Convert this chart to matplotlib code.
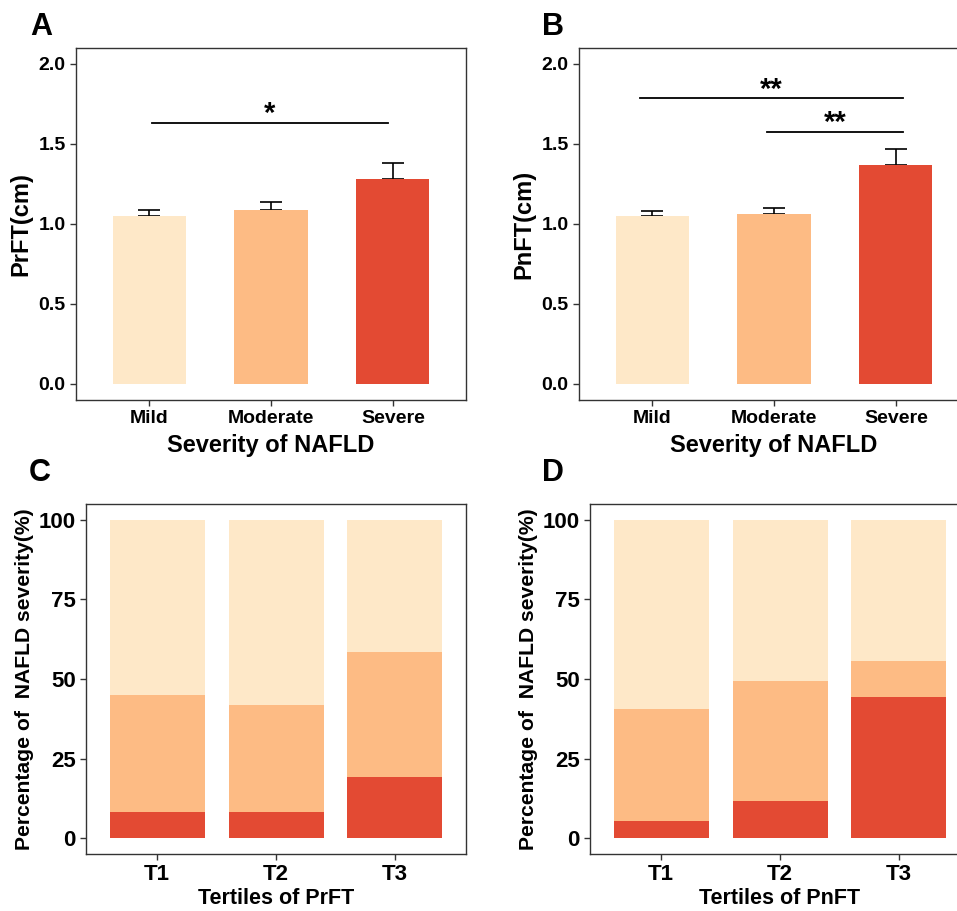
import matplotlib
matplotlib.use("Agg")
import matplotlib.pyplot as plt
import numpy as np

plt.rcParams['font.family'] = ['Liberation Sans', 'DejaVu Sans']

# ---- data ----
severity = ["Mild", "Moderate", "Severe"]
prft_mean = [1.05, 1.09, 1.28]
prft_se = [0.04, 0.05, 0.10]
pnft_mean = [1.05, 1.06, 1.37]
pnft_se = [0.03, 0.04, 0.10]

tertiles = ["T1", "T2", "T3"]
# stacked percentages (bottom -> top): severe, moderate, mild
c_severe = [8.1, 8.1, 19.3]
c_moderate = [36.9, 33.7, 39.2]
c_mild = [55.0, 58.2, 41.5]
d_severe = [5.5, 11.8, 44.3]
d_moderate = [35.1, 37.7, 11.3]
d_mild = [59.4, 50.5, 44.4]

colors = ["#fee8c8", "#fdbb84", "#e34a33"]

W, H = 957, 911
fig = plt.figure(figsize=(W / 100, H / 100), dpi=100)


def ax_px(left, top, right, bottom):
    return fig.add_axes([left / W, 1 - bottom / H, (right - left) / W, (bottom - top) / H])


def style(ax, tick_fs):
    for s in ax.spines.values():
        s.set_color("#333333")
        s.set_linewidth(1.0)
    ax.tick_params(axis="both", length=4, width=1.0, color="#333333",
                   labelsize=tick_fs, labelcolor="black")
    for lab in ax.get_xticklabels() + ax.get_yticklabels():
        lab.set_fontweight("bold")


def bar_panel(ax, means, se, ylabel, sigs):
    x = np.arange(1, 4)
    ax.bar(x, means, width=0.6, color=colors, zorder=2)
    ax.errorbar(x, means, yerr=[np.zeros(3), se], fmt="none", ecolor="black",
                elinewidth=1.2, capsize=8, capthick=1.2, zorder=1)
    ax.set_xlim(0.4, 3.6)
    ax.set_ylim(-0.1, 2.1)
    ax.set_yticks([0.0, 0.5, 1.0, 1.5, 2.0])
    ax.set_yticklabels(["0.0", "0.5", "1.0", "1.5", "2.0"])
    ax.set_xticks(x)
    ax.set_xticklabels(severity)
    ax.set_xlabel("Severity of NAFLD", fontsize=17, fontweight="bold", labelpad=5)
    ax.set_ylabel(ylabel, fontsize=17, fontweight="bold", labelpad=4)
    for (x0, x1, y, ytxt, label) in sigs:
        ax.plot([x0, x1], [y, y], color="black", lw=1.3)
        ax.text((x0 + x1) / 2, ytxt, label, ha="center", va="center",
                fontsize=21, fontweight="bold")
    style(ax, 14)


def stack_panel(ax, sev, mod, mild, xlabel):
    x = np.arange(1, 4)
    sev = np.array(sev)
    mod = np.array(mod)
    mild = np.array(mild)
    ax.bar(x, sev, width=0.8, color=colors[2])
    ax.bar(x, mod, width=0.8, bottom=sev, color=colors[1])
    ax.bar(x, mild, width=0.8, bottom=sev + mod, color=colors[0])
    ax.set_xlim(0.4, 3.6)
    ax.set_ylim(-5, 105)
    ax.set_yticks([0, 25, 50, 75, 100])
    ax.set_xticks(x)
    ax.set_xticklabels(tertiles)
    ax.set_xlabel(xlabel, fontsize=15.5, fontweight="bold", labelpad=2)
    ax.set_ylabel("Percentage of  NAFLD severity(%)", fontsize=15.2,
                  fontweight="bold", labelpad=3)
    style(ax, 16)


axA = ax_px(76, 48, 466, 400)
bar_panel(axA, prft_mean, prft_se, "PrFT(cm)",
          [(1.02, 2.96, 1.63, 1.69, "*")])
axB = ax_px(579, 48, 969, 400)
bar_panel(axB, pnft_mean, pnft_se, "PnFT(cm)",
          [(0.9, 3.06, 1.785, 1.84, "**"), (1.94, 3.06, 1.573, 1.63, "**")])

axC = ax_px(86, 504, 466, 854)
stack_panel(axC, c_severe, c_moderate, c_mild, "Tertiles of PrFT")
axD = ax_px(590, 504, 970, 854)
stack_panel(axD, d_severe, d_moderate, d_mild, "Tertiles of PnFT")

for lab, (px, py) in zip("ABCD", [(41, 27), (553, 27), (40, 473), (553, 473)]):
    fig.text(px / W, 1 - py / H, lab, fontsize=22, fontweight="bold",
             ha="center", va="center")

fig.savefig("out.png", dpi=100)
